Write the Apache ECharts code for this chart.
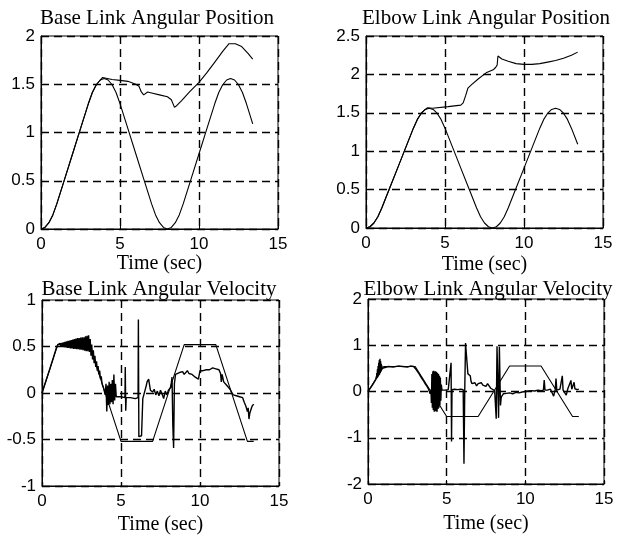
<!DOCTYPE html>
<html>
<head>
<meta charset="utf-8">
<script src="https://cdn.jsdelivr.net/npm/echarts@6/dist/echarts.min.js"></script>
<style>html,body{margin:0;padding:0;background:#fff;}#c{width:618px;height:538px;}</style>
</head>
<body>
<div id="c"></div>
<script>
// ---- chart texts ----
const titles = ['Base Link Angular Position', 'Elbow Link Angular Position', 'Base Link Angular Velocity', 'Elbow Link Angular Velocity'];
const xName = 'Time (sec)';
const xTicks = [0, 5, 10, 15];

// ---- reference position (both links) ----
const refPosT = [0,0.25,0.5,0.75,1,1.5,2,2.5,3,3.25,3.5,3.75,4,4.25,4.5,4.75,5,5.5,6,6.5,7,7.25,7.5,7.75,8,8.25,8.5,8.75,9,9.5,10,10.5,11,11.25,11.5,11.75,12,12.25,12.5,12.75,13,13.4];
const refPosV = [0,0.016,0.065,0.146,0.26,0.52,0.78,1.04,1.30,1.414,1.495,1.544,1.56,1.544,1.495,1.414,1.30,1.04,0.78,0.52,0.26,0.146,0.065,0.016,0,0.016,0.065,0.146,0.26,0.52,0.78,1.04,1.30,1.414,1.495,1.544,1.56,1.544,1.495,1.414,1.30,1.09];

// ---- actual base position ----
const basePosT = [0,0.25,0.5,0.75,1,1.5,2,2.5,3,3.25,3.5,3.75,3.9,4.5,5.0,5.5,6.0,6.2,6.35,6.5,6.6,6.75,7.0,7.5,8.0,8.25,8.45,8.6,8.9,9.4,10.0,10.5,11.0,11.5,11.9,12.3,12.7,13.1,13.4];
const basePosV = [0,0.016,0.065,0.146,0.26,0.52,0.78,1.04,1.30,1.414,1.495,1.544,1.57,1.55,1.54,1.53,1.50,1.48,1.42,1.39,1.38,1.42,1.41,1.39,1.37,1.34,1.26,1.28,1.33,1.42,1.52,1.62,1.73,1.84,1.92,1.92,1.89,1.82,1.76];

// ---- actual elbow position ----
const elbowPosT = [0,0.25,0.5,0.75,1,1.5,2,2.5,3,3.25,3.5,3.75,3.9,4.2,5.2,6.0,6.15,6.3,6.45,6.7,7.1,7.6,8.05,8.2,8.3,8.35,8.6,9.0,9.5,10.0,10.5,11.0,11.5,12.0,12.5,13.0,13.4];
const elbowPosV = [0,0.016,0.065,0.146,0.26,0.52,0.78,1.04,1.30,1.414,1.495,1.544,1.565,1.56,1.58,1.60,1.63,1.72,1.82,1.87,1.94,2.02,2.06,2.09,2.12,2.24,2.20,2.17,2.14,2.13,2.13,2.14,2.16,2.18,2.21,2.25,2.29];

// ---- reference velocities ----
const refVelT = [0,1,3,5,7,9,11,13,13.4];
const baseRefVelV = [0,0.52,0.52,-0.52,-0.52,0.52,0.52,-0.52,-0.52];
const elbowRefVelV = [0,0.54,0.54,-0.54,-0.54,0.55,0.55,-0.54,-0.54];

// ---- actual base velocity ----
const baseVelT = [0,0.5,0.9,1.0,1.05,1.1,1.15,1.2,1.25,1.3,1.35,1.4,1.45,1.5,1.55,1.6,1.65,1.7,1.75,1.8,1.85,1.9,1.95,2.0,2.05,2.1,2.15,2.2,2.25,2.3,2.35,2.4,2.45,2.5,2.55,2.6,2.65,2.7,2.75,2.8,2.85,2.9,2.95,3.0,3.05,3.1,3.15,3.2,3.25,3.3,3.35,3.4,3.45,3.5,3.55,3.6,3.65,3.7,3.75,3.8,3.85,3.9,3.95,4.0,4.05,4.1,4.15,4.2,4.25,4.3,4.35,4.4,4.45,4.5,4.55,4.6,4.65,4.7,4.8,5.0,5.25,5.27,5.3,5.33,5.6,5.9,6.08,6.1,6.13,6.2,6.3,6.38,6.5,6.6,6.65,6.75,6.86,7.0,7.1,7.2,7.3,7.4,7.5,7.6,7.7,7.8,7.9,8.0,8.08,8.15,8.23,8.28,8.33,8.38,8.45,8.55,8.7,8.8,8.9,9.0,9.1,9.2,9.3,9.4,9.5,9.6,9.7,9.8,9.9,10.0,10.1,10.2,10.3,10.4,10.5,10.6,10.7,10.8,10.9,11.0,11.1,11.2,11.3,11.35,11.4,11.5,11.6,11.7,11.8,11.9,12.0,12.1,12.2,12.3,12.4,12.5,12.6,12.7,12.8,12.9,13.0,13.05,13.1,13.15,13.2,13.3,13.4];
const baseVelV = [0,0.26,0.48,0.52,0.53,0.50,0.535,0.50,0.54,0.495,0.545,0.49,0.55,0.49,0.555,0.485,0.56,0.485,0.565,0.48,0.57,0.48,0.575,0.475,0.58,0.475,0.585,0.47,0.59,0.47,0.59,0.465,0.595,0.465,0.60,0.46,0.60,0.455,0.61,0.45,0.615,0.45,0.62,0.44,0.58,0.40,0.52,0.36,0.46,0.32,0.40,0.28,0.34,0.24,0.29,0.20,0.24,0.15,0.18,0.10,0.12,0.05,0.06,-0.02,0.10,-0.20,0.08,-0.13,0.12,-0.12,0.10,-0.10,0.14,-0.12,0.20,-0.08,0.10,-0.04,-0.03,-0.04,-0.05,0.28,-0.19,-0.05,-0.05,-0.06,-0.05,0.79,-0.47,-0.47,-0.46,-0.06,-0.04,0.08,0.12,0.15,0.03,0.01,0.04,-0.02,0.02,-0.03,0.03,-0.01,-0.06,0.02,-0.02,0.03,0.01,0.06,0.17,-0.35,-0.59,0.10,0.20,0.19,0.22,0.20,0.23,0.20,0.22,0.24,0.21,0.23,0.20,0.19,0.17,0.16,0.15,0.24,0.22,0.24,0.22,0.25,0.23,0.25,0.24,0.27,0.25,0.26,0.24,0.25,0.21,0.12,0.20,0.12,0.14,0.08,0.10,0.04,0.01,-0.02,-0.01,-0.03,-0.02,-0.04,-0.05,-0.05,-0.10,-0.14,-0.20,-0.16,-0.28,-0.22,-0.19,-0.14,-0.12];

// ---- actual elbow velocity ----
const elbowVelT = [0,0.3,0.5,0.52,0.54,0.56,0.58,0.60,0.62,0.64,0.66,0.68,0.70,0.72,0.74,0.76,0.78,0.80,0.82,0.84,0.86,0.88,0.90,1.0,1.3,1.6,1.9,2.2,2.5,2.7,2.9,3.0,3.05,3.1,3.15,3.2,3.25,3.3,3.35,3.4,3.45,3.5,3.55,3.6,3.65,3.7,3.75,3.8,3.85,3.9,3.95,4.0,4.03,4.06,4.09,4.12,4.15,4.18,4.21,4.24,4.27,4.30,4.33,4.36,4.39,4.42,4.45,4.48,4.51,4.54,4.57,4.60,4.63,4.66,4.7,4.8,4.9,5.0,5.1,5.2,5.28,5.31,5.34,5.5,5.7,5.9,6.05,6.1,6.15,6.2,6.27,6.3,6.35,6.45,6.5,6.55,6.6,6.7,6.8,6.9,7.0,7.1,7.2,7.3,7.4,7.5,7.6,7.7,7.8,7.9,8.05,8.15,8.2,8.27,8.3,8.35,8.39,8.42,8.47,8.6,8.8,9.0,9.2,9.4,9.6,9.8,10.0,10.2,10.4,10.6,10.8,11.0,11.15,11.2,11.25,11.4,11.6,11.8,11.9,11.95,12.0,12.2,12.35,12.4,12.6,12.7,12.9,12.95,13.1,13.15,13.3,13.4];
const elbowVelV = [0,0.15,0.26,0.32,0.27,0.40,0.29,0.48,0.31,0.55,0.33,0.62,0.35,0.68,0.37,0.71,0.40,0.66,0.43,0.60,0.46,0.56,0.50,0.54,0.54,0.53,0.55,0.54,0.53,0.55,0.54,0.56,0.48,0.52,0.43,0.46,0.38,0.41,0.32,0.35,0.27,0.30,0.22,0.25,0.16,0.19,0.11,0.14,0.05,0.08,-0.05,0.04,-0.25,0.38,-0.35,0.44,-0.40,0.45,-0.44,0.43,-0.42,0.44,-0.43,0.42,-0.44,0.40,-0.38,0.38,-0.35,0.34,-0.30,0.30,-0.20,0.15,0.03,0.05,0.03,0.05,0.04,0.05,0.62,-1.08,0.04,0.05,0.04,0.05,0.04,-1.56,0.03,1.05,1.04,0.60,0.38,0.36,0.34,0.22,0.17,0.14,0.19,0.12,0.17,0.13,0.19,0.14,0.18,0.11,0.17,0.13,0.07,0.03,0.02,-0.59,0.98,0.97,-0.57,0.97,0.95,-0.30,-0.12,-0.05,-0.04,-0.03,-0.05,-0.02,-0.03,-0.01,0.00,0.01,0.02,0.01,0.03,0.02,0.03,0.25,0.03,0.03,0.05,-0.10,0.04,0.28,0.03,0.05,0.34,0.03,-0.08,0.06,0.24,0.05,0.20,0.06,0.04,0.05];

// ---- y axis ranges ----
const yRanges = [[0, 2, 0.5], [0, 2.5, 0.5], [-1, 1, 0.5], [-2, 2, 1]];

const zip = (t, v) => t.map((x, i) => [x, v[i]]);

const grids = [
  {left: 41, top: 36, width: 237, height: 193},
  {left: 366, top: 36, width: 237, height: 192},
  {left: 42, top: 300, width: 237, height: 186},
  {left: 368, top: 299, width: 236, height: 185}
];
const titlePos = [[157, 8], [486, 8], [159, 279], [488, 279]];
const nameGaps = [25, 27, 29, 30];

const labelFont = {color: '#000', fontFamily: 'Liberation Sans, Arial, sans-serif', fontSize: 17};
const dash = {color: '#000', width: 1.4, type: [8, 5]};

const option = {
  animation: false,
  backgroundColor: '#fff',
  title: titles.map((t, i) => ({
    text: t, left: titlePos[i][0], top: titlePos[i][1], textAlign: 'center', padding: 0,
    textStyle: {color: '#000', fontFamily: 'Liberation Serif, Times New Roman, serif', fontSize: 21, fontWeight: 'normal'}
  })),
  grid: grids.map(g => Object.assign({show: true, borderColor: '#000', borderWidth: 1, backgroundColor: 'transparent'}, g)),
  xAxis: grids.map((g, i) => ({
    type: 'value', gridIndex: i, min: xTicks[0], max: xTicks[xTicks.length - 1], interval: 5,
    name: xName, nameLocation: 'middle', nameGap: nameGaps[i],
    nameTextStyle: {color: '#000', fontFamily: 'Liberation Serif, Times New Roman, serif', fontSize: 20},
    axisLine: {show: true, onZero: false, lineStyle: {color: '#000', width: 1}},
    axisTick: {show: true, inside: true, length: 4, lineStyle: {color: '#000'}},
    axisLabel: Object.assign({margin: 7}, labelFont),
    splitLine: {show: true, lineStyle: dash}
  })),
  yAxis: grids.map((g, i) => ({
    type: 'value', gridIndex: i, min: yRanges[i][0], max: yRanges[i][1], interval: yRanges[i][2],
    axisLine: {show: true, onZero: false, lineStyle: {color: '#000', width: 1}},
    axisTick: {show: true, inside: true, length: 4, lineStyle: {color: '#000'}},
    axisLabel: Object.assign({margin: 6}, labelFont),
    splitLine: {show: true, lineStyle: dash}
  })),
  series: [
    {data: zip(refPosT, refPosV), xAxisIndex: 0, yAxisIndex: 0},
    {data: zip(basePosT, basePosV), xAxisIndex: 0, yAxisIndex: 0},
    {data: zip(refPosT, refPosV), xAxisIndex: 1, yAxisIndex: 1},
    {data: zip(elbowPosT, elbowPosV), xAxisIndex: 1, yAxisIndex: 1},
    {data: zip(refVelT, baseRefVelV), xAxisIndex: 2, yAxisIndex: 2},
    {data: zip(baseVelT, baseVelV), xAxisIndex: 2, yAxisIndex: 2, lineStyle: {color: '#000', width: 1.4}},
    {data: zip(refVelT, elbowRefVelV), xAxisIndex: 3, yAxisIndex: 3},
    {data: zip(elbowVelT, elbowVelV), xAxisIndex: 3, yAxisIndex: 3, lineStyle: {color: '#000', width: 1.4}}
  ].map(s => Object.assign({type: 'line', showSymbol: false, symbol: 'none', lineStyle: {color: '#000', width: 1.1}, silent: true}, s))
};

const chart = echarts.init(document.getElementById('c'), null, {renderer: 'canvas'});
chart.setOption(option);
</script>
</body>
</html>
